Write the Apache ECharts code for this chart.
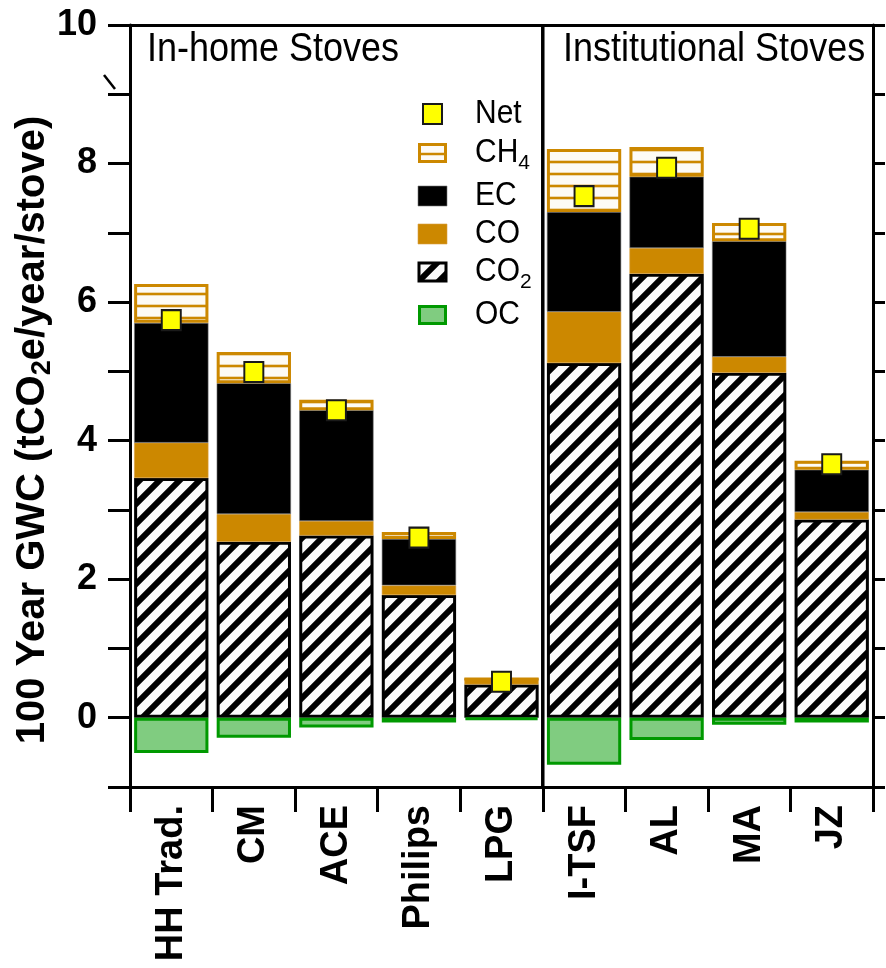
<!DOCTYPE html>
<html>
<head>
<meta charset="utf-8">
<script src="https://cdn.jsdelivr.net/npm/echarts@6/dist/echarts.min.js"></script>
<style>
  html, body { margin: 0; padding: 0; background: #fff; }
  #chart { width: 886px; height: 968px; }
</style>
</head>
<body>
<div id="chart"></div>
<script>
// Stove types (x categories) and their 100-year GWC contributions (tCO2e/year/stove)
const categories = ['HH Trad.', 'CM', 'ACE', 'Philips', 'LPG', 'I-TSF', 'AL', 'MA', 'JZ'];
const co2 = [3.46, 2.54, 2.63, 1.77, 0.48, 5.12, 6.41, 4.98, 2.86];
const co  = [0.51, 0.40, 0.21, 0.14, 0.08, 0.74, 0.37, 0.23, 0.11];
const ec  = [1.73, 1.89, 1.60, 0.67, 0.00, 1.44, 1.03, 1.67, 0.61];
const ch4 = [0.56, 0.45, 0.15, 0.10, 0.00, 0.91, 0.43, 0.26, 0.13];
const oc  = [-0.51, -0.29, -0.14, -0.07, -0.03, -0.68, -0.32, -0.10, -0.07];
const net = [5.74, 4.99, 4.44, 2.60, 0.52, 7.53, 7.94, 7.06, 3.66];

// Axis settings
const yMin = -1, yMax = 10, yStep = 1;
const yLabelValues = [0, 2, 4, 6, 8, 10];
const groupTitles = ['In-home Stoves', 'Institutional Stoves'];

const ORANGE = '#cc8800';
const GREEN_FILL = '#80cc80';
const GREEN_EDGE = '#009900';

// Diagonal black/white hatch used for CO2
function hatchPattern() {
  const s = 20;
  const c = document.createElement('canvas');
  c.width = s; c.height = s;
  const g = c.getContext('2d');
  g.fillStyle = '#fafafa';
  g.fillRect(0, 0, s, s);
  g.strokeStyle = '#000';
  g.lineWidth = 6;
  for (const k of [0, s, 2 * s]) {
    g.beginPath();
    g.moveTo(-6, k + 6);
    g.lineTo(s + 6, k - s - 6);
    g.stroke();
  }
  return c;
}

// Horizontal orange rules on white used for CH4
function rulePattern() {
  const s = 12;
  const c = document.createElement('canvas');
  c.width = s; c.height = s;
  const g = c.getContext('2d');
  g.fillStyle = '#fdfbf6';
  g.fillRect(0, 0, s, s);
  g.strokeStyle = ORANGE;
  g.lineWidth = 2.6;
  g.beginPath();
  g.moveTo(0, 6);
  g.lineTo(s, 6);
  g.stroke();
  return c;
}

const hatchFill = { image: hatchPattern(), repeat: 'repeat' };
const ruleFill = { image: rulePattern(), repeat: 'repeat' };

const measureCtx = document.createElement('canvas').getContext('2d');
function textWidth(str, font) {
  measureCtx.font = font;
  return measureCtx.measureText(str).width;
}

const chart = echarts.init(document.getElementById('chart'), null, { renderer: 'canvas' });

const axisLineStyle = { color: '#000', width: 3 };

const option = {
  animation: false,
  backgroundColor: '#fff',
  grid: { left: 130, right: 13, top: 25, bottom: 181, containLabel: false },
  xAxis: [
    {
      type: 'category',
      data: categories,
      position: 'bottom',
      axisLine: { onZero: false, lineStyle: axisLineStyle },
      axisTick: { show: true, inside: false, length: 25, lineStyle: { color: '#000', width: 3 } },
      axisLabel: {
        rotate: 90,
        margin: 18,
        color: '#000',
        fontFamily: 'Liberation Sans',
        fontWeight: 'bold',
        fontSize: 38,
        interval: 0
      },
      splitLine: { show: false }
    },
    {
      type: 'category',
      data: categories,
      position: 'top',
      axisLine: { onZero: false, lineStyle: axisLineStyle },
      axisTick: { show: false },
      axisLabel: { show: false }
    }
  ],
  yAxis: [
    {
      type: 'value',
      min: yMin, max: yMax, interval: yStep,
      position: 'left',
      axisLine: { show: true, onZero: false, lineStyle: axisLineStyle },
      axisTick: { show: true, inside: false, length: 22, lineStyle: { color: '#000', width: 3 } },
      axisLabel: {
        margin: 33,
        color: '#000',
        fontFamily: 'Liberation Sans',
        fontWeight: 'bold',
        fontSize: 36,
        formatter: v => (yLabelValues.indexOf(Math.round(v)) >= 0 ? String(Math.round(v)) : '')
      },
      splitLine: { show: false }
    },
    {
      type: 'value',
      min: yMin, max: yMax, interval: yStep,
      position: 'right',
      axisLine: { show: true, onZero: false, lineStyle: axisLineStyle },
      axisTick: { show: true, inside: false, length: 12, lineStyle: { color: '#000', width: 3 } },
      axisLabel: { show: false },
      splitLine: { show: false }
    }
  ],
  series: [
    {
      name: 'CO2', type: 'bar', stack: 'gwc', data: co2, barCategoryGap: '10%',
      itemStyle: { color: hatchFill, borderColor: '#000', borderWidth: 3 }
    },
    {
      name: 'CO', type: 'bar', stack: 'gwc', data: co,
      itemStyle: { color: ORANGE, borderColor: '#d9a040', borderWidth: 0.6 }
    },
    {
      name: 'EC', type: 'bar', stack: 'gwc', data: ec,
      itemStyle: { color: '#000', borderColor: '#777', borderWidth: 0.6 }
    },
    {
      name: 'CH4', type: 'bar', stack: 'gwc', data: ch4,
      itemStyle: { color: ruleFill, borderColor: ORANGE, borderWidth: 3 }
    },
    {
      name: 'OC', type: 'bar', stack: 'gwc', data: oc,
      itemStyle: { color: GREEN_FILL, borderColor: GREEN_EDGE, borderWidth: 3 }
    },
    {
      name: 'Net', type: 'scatter', data: net, symbol: 'rect', symbolSize: [19, 20], z: 5,
      itemStyle: { color: '#ffff00', borderColor: '#1a1a1a', borderWidth: 2, opacity: 1 }
    }
  ]
};

chart.setOption(option);

// Legend, titles and divider drawn as graphic elements
function buildGraphics() {
  const els = [];
  const legendFont = 30;
  const legendX = 418, textX = 475;
  const legendItems = [
    { main: 'Net', sub: '', y: 114, kind: 'net' },
    { main: 'CH', sub: '4', y: 153, kind: 'ch4' },
    { main: 'EC', sub: '', y: 196, kind: 'ec' },
    { main: 'CO', sub: '', y: 234, kind: 'co' },
    { main: 'CO', sub: '2', y: 272, kind: 'co2' },
    { main: 'OC', sub: '', y: 315, kind: 'oc' }
  ];
  legendItems.forEach(it => {
    const top = it.y - 10;
    if (it.kind === 'net') {
      els.push({ type: 'rect', shape: { x: 423, y: it.y - 10, width: 19, height: 20 },
        style: { fill: '#ffff00', stroke: '#1a1a1a', lineWidth: 2 } });
    } else if (it.kind === 'ch4') {
      els.push({ type: 'rect', shape: { x: legendX + 1.5, y: top + 1.5, width: 26, height: 17 },
        style: { fill: '#fdfbf6', stroke: ORANGE, lineWidth: 3 } });
      els.push({ type: 'line', shape: { x1: legendX + 1.5, y1: it.y + 1, x2: legendX + 27.5, y2: it.y + 1 },
        style: { stroke: ORANGE, lineWidth: 2.5 } });
    } else if (it.kind === 'ec') {
      els.push({ type: 'rect', shape: { x: legendX, y: top, width: 29, height: 20 },
        style: { fill: '#000', stroke: '#777', lineWidth: 0.6 } });
    } else if (it.kind === 'co') {
      els.push({ type: 'rect', shape: { x: legendX, y: top, width: 29, height: 20 },
        style: { fill: ORANGE, stroke: '#d9a040', lineWidth: 0.6 } });
    } else if (it.kind === 'co2') {
      els.push({ type: 'rect', shape: { x: legendX + 1, y: top + 1, width: 27, height: 18 },
        style: { fill: hatchFill, stroke: '#000', lineWidth: 3 } });
    } else if (it.kind === 'oc') {
      els.push({ type: 'rect', shape: { x: legendX + 1.5, y: top + 1.5, width: 26, height: 17 },
        style: { fill: GREEN_FILL, stroke: GREEN_EDGE, lineWidth: 3 } });
    }
    const font = legendFont + 'px "Liberation Sans"';
    els.push({ type: 'text', x: textX, y: it.y, scaleY: 1.08,
      style: { text: it.main, x: 0, y: 0, fill: '#000', font: font, verticalAlign: 'middle', align: 'left' } });
    if (it.sub) {
      const w = textWidth(it.main, font);
      els.push({ type: 'text', x: textX + w, y: it.y + 10,
        style: { text: it.sub, x: 0, y: 0, fill: '#000', font: '21px "Liberation Sans"', verticalAlign: 'middle', align: 'left' } });
    }
  });

  // Group headings
  els.push({ type: 'text', x: 147, y: 50, scaleY: 1.15,
    style: { text: groupTitles[0], x: 0, y: 0, fill: '#000', font: '36px "Liberation Sans"', verticalAlign: 'middle' } });
  els.push({ type: 'text', x: 563, y: 50, scaleY: 1.15,
    style: { text: groupTitles[1], x: 0, y: 0, fill: '#000', font: '36px "Liberation Sans"', verticalAlign: 'middle' } });

  // Y axis title with subscript, reading bottom to top
  const tFont = 'bold 40px "Liberation Sans"';
  const sFont = 'bold 27px "Liberation Sans"';
  const p1 = '100 Year GWC (tCO', p2 = '2', p3 = 'e/year/stove)';
  const w1 = textWidth(p1, tFont), w2 = textWidth(p2, sFont), w3 = textWidth(p3, tFont);
  const x0 = -(w1 + w2 + w3) / 2;
  els.push({
    type: 'group', x: 33, y: 430, rotation: Math.PI / 2,
    children: [
      { type: 'text', style: { text: p1, x: x0, y: 0, font: tFont, fill: '#000', verticalAlign: 'middle' } },
      { type: 'text', style: { text: p2, x: x0 + w1, y: 10, font: sFont, fill: '#000', verticalAlign: 'middle' } },
      { type: 'text', style: { text: p3, x: x0 + w1 + w2, y: 0, font: tFont, fill: '#000', verticalAlign: 'middle' } }
    ]
  });

  // Divider between household and institutional stoves
  const xa = chart.convertToPixel({ xAxisIndex: 0 }, categories[4]);
  const xb = chart.convertToPixel({ xAxisIndex: 0 }, categories[5]);
  const yTop = chart.convertToPixel({ yAxisIndex: 0 }, yMax);
  const yBot = chart.convertToPixel({ yAxisIndex: 0 }, yMin);
  const xm = (xa + xb) / 2;
  els.push({ type: 'line', z: 10, shape: { x1: xm, y1: yTop, x2: xm, y2: yBot },
    style: { stroke: '#000', lineWidth: 3.5 } });

  // Small slanted mark beside the left axis
  els.push({ type: 'line', shape: { x1: 104, y1: 75, x2: 115, y2: 89 },
    style: { stroke: '#000', lineWidth: 2.5 } });

  return els;
}

chart.setOption({ graphic: buildGraphics() });
</script>
</body>
</html>
